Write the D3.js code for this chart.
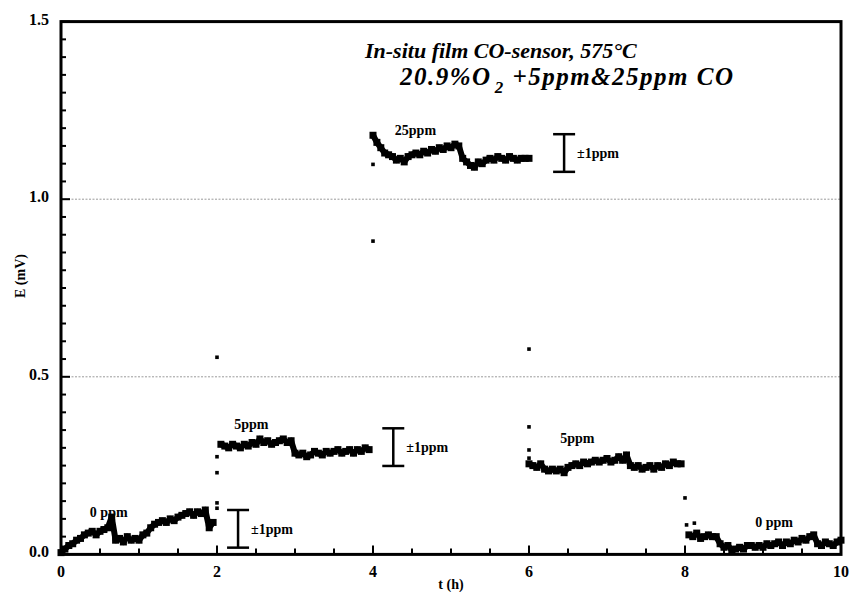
<!DOCTYPE html>
<html><head><meta charset="utf-8">
<script src="https://cdn.jsdelivr.net/npm/d3@7"></script>
<style>
html,body{margin:0;padding:0;background:#fff;}
text{font-family:"Liberation Serif","Times New Roman",serif;font-weight:bold;fill:#000;}
</style></head>
<body><svg id="c" width="860" height="592"></svg>
<script>
// ---- data ----
const step = 0.05;
const seg0Start = 0.00;
const seg0 = [0.005,0.015,0.025,0.03,0.04,0.045,0.055,0.06,0.065,0.055,0.065,0.07,0.075,0.105,0.04,0.045,0.035,0.05,0.04,0.045,
              0.04,0.055,0.06,0.075,0.085,0.09,0.095,0.09,0.10,0.095,0.105,0.11,0.115,0.12,0.11,0.12,0.115,0.125,0.075,0.09];
const seg1Start = 2.05;
const seg1 = [0.31,0.305,0.30,0.31,0.305,0.30,0.31,0.305,0.315,0.31,0.325,0.315,0.32,0.31,0.315,0.32,0.325,0.315,0.32,
              0.285,0.28,0.285,0.275,0.28,0.29,0.285,0.28,0.29,0.285,0.29,0.295,0.285,0.29,0.295,0.285,0.295,0.29,0.30,0.295];
const seg2Start = 4.00;
const seg2 = [1.18,1.16,1.145,1.13,1.125,1.12,1.11,1.115,1.105,1.12,1.125,1.13,1.125,1.135,1.13,1.14,1.135,1.145,1.14,1.15,
              1.145,1.155,1.15,1.115,1.105,1.095,1.09,1.105,1.10,1.11,1.115,1.11,1.12,1.115,1.11,1.12,1.115,1.11,1.115,1.115,1.115];
const seg3Start = 6.00;
const seg3 = [0.255,0.25,0.245,0.255,0.24,0.235,0.24,0.235,0.24,0.23,0.245,0.25,0.255,0.25,0.26,0.255,0.26,0.265,0.26,0.265,
              0.27,0.26,0.265,0.275,0.265,0.28,0.25,0.245,0.25,0.24,0.245,0.25,0.24,0.25,0.245,0.255,0.25,0.26,0.255,0.255];
const seg4Start = 8.05;
const seg4 = [0.055,0.05,0.06,0.045,0.05,0.055,0.05,0.05,0.03,0.02,0.025,0.012,0.015,0.02,0.015,0.025,0.025,0.02,0.025,0.02,
              0.03,0.025,0.03,0.035,0.025,0.035,0.03,0.04,0.035,0.045,0.04,0.05,0.055,0.03,0.025,0.035,0.03,0.025,0.035,0.04];
// isolated transition points
const outT = [2.0,2.0,2.0,2.0,2.0, 4.0,4.0, 6.0,6.0,6.0,6.0, 8.0,8.02,8.12];
const outV = [0.13,0.145,0.23,0.275,0.555, 0.882,1.098, 0.578,0.359,0.294,0.271, 0.159,0.083,0.088];
// annotations
const labels = [
  {t:0.37, v:0.105, s:"0 ppm"},
  {t:2.22, v:0.352, s:"5ppm"},
  {t:4.28, v:1.18, s:"25ppm"},
  {t:6.40, v:0.315, s:"5ppm"},
  {t:8.90, v:0.078, s:"0 ppm"}
];
const errT = [2.27, 4.26, 6.45];
const errV = [0.072, 0.302, 1.13];
const errHalf = 0.053;
const errLabel = "±1ppm";
const xTicks = [0,2,4,6,8,10];
const yTicks = [0.0,0.5,1.0,1.5];
const gridY = [0.5,1.0];

// ---- layout ----
const svg = d3.select("#c");
const L=61, R=841, T=21.6, B=554.4;
const x = d3.scaleLinear().domain([0,10]).range([L,R]);
const y = d3.scaleLinear().domain([0,1.5]).range([B,T]);

function pts(start, arr){ return arr.map((v,i)=>({t:+(start+i*step).toFixed(3), v})); }
const segs = [pts(seg0Start,seg0),pts(seg1Start,seg1),pts(seg2Start,seg2),pts(seg3Start,seg3),pts(seg4Start,seg4)];

// grid
svg.selectAll(".grid").data(gridY).enter().append("line")
  .attr("x1",L).attr("x2",R).attr("y1",d=>y(d)).attr("y2",d=>y(d))
  .attr("stroke","#9a9a9a").attr("stroke-width",1).attr("stroke-dasharray","2,1.5");

// data
const line = d3.line().x(d=>x(d.t)).y(d=>y(d.v));
const g = svg.append("g");
segs.forEach(s=>{
  g.append("path").attr("d",line(s)).attr("fill","none").attr("stroke","#000").attr("stroke-width",6).attr("stroke-linejoin","round");
  g.selectAll(null).data(s).enter().append("rect")
    .attr("x",d=>x(d.t)-3.5).attr("y",d=>y(d.v)-3.5).attr("width",7).attr("height",7).attr("fill","#000");
});
g.selectAll(".out").data(outT.map((t,i)=>({t,v:outV[i]}))).enter().append("rect")
  .attr("x",d=>x(d.t)-1.8).attr("y",d=>y(d.v)-1.8).attr("width",3.6).attr("height",3.6).attr("fill","#000");

// axes frame
svg.append("rect").attr("x",L).attr("y",T).attr("width",R-L).attr("height",B-T)
  .attr("fill","none").attr("stroke","#000").attr("stroke-width",3);
// x ticks (inward)
svg.selectAll(".xt").data(d3.range(0,10.01,0.5)).enter().append("line")
  .attr("x1",d=>x(d)).attr("x2",d=>x(d))
  .attr("y1",B).attr("y2",d=>B-(Math.abs(d%2)<1e-6?9:6))
  .attr("stroke","#000").attr("stroke-width",2);
svg.selectAll(".yt").data(d3.range(0,1.501,0.05)).enter().append("line")
  .attr("x1",L).attr("x2",d=>L+(Math.abs((d*2)%1)<1e-6||Math.abs((d*2)%1-1)<1e-6?9:5))
  .attr("y1",d=>y(d)).attr("y2",d=>y(d))
  .attr("stroke","#000").attr("stroke-width",2);

// tick labels
svg.selectAll(".xl").data(xTicks).enter().append("text")
  .attr("x",d=>x(d)).attr("y",577).attr("text-anchor","middle").attr("font-size",16).text(d=>d);
svg.selectAll(".yl").data(yTicks).enter().append("text")
  .attr("x",49).attr("y",d=>y(d)+3).attr("text-anchor","end").attr("font-size",16).text(d=>d.toFixed(1));

// axis titles
svg.append("text").attr("x",(L+R)/2).attr("y",589).attr("text-anchor","middle").attr("font-size",14).text("t (h)");
svg.append("text").attr("transform","translate(25,276) rotate(-90)").attr("text-anchor","middle").attr("font-size",14).text("E (mV)");

// title
svg.append("text").attr("x",365).attr("y",58).attr("font-size",22).attr("font-style","italic").text("In-situ film CO-sensor, 575°C");
const t2 = svg.append("text").attr("x",400).attr("y",85).attr("font-size",25).attr("font-style","italic").attr("letter-spacing",1.5);
t2.append("tspan").text("20.9%O");
t2.append("tspan").attr("dx",3).attr("dy",8).attr("font-size",17).text("2");
t2.append("tspan").attr("dy",-8).text(" +5ppm&25ppm CO");

// annotations
svg.selectAll(".ann").data(labels).enter().append("text")
  .attr("x",d=>x(d.t)).attr("y",d=>y(d.v)).attr("font-size",14).text(d=>d.s);

// error bars
errT.forEach((t,i)=>{
  const cx=x(t), y1=y(errV[i]+errHalf), y2=y(errV[i]-errHalf);
  svg.append("line").attr("x1",cx).attr("x2",cx).attr("y1",y1).attr("y2",y2).attr("stroke","#000").attr("stroke-width",2.5);
  [y1,y2].forEach(yy=>svg.append("line").attr("x1",cx-11).attr("x2",cx+11).attr("y1",yy).attr("y2",yy).attr("stroke","#000").attr("stroke-width",2.5));
  svg.append("text").attr("x",cx+13).attr("y",y(errV[i])+5).attr("font-size",14).text(errLabel);
});
</script></body></html>
